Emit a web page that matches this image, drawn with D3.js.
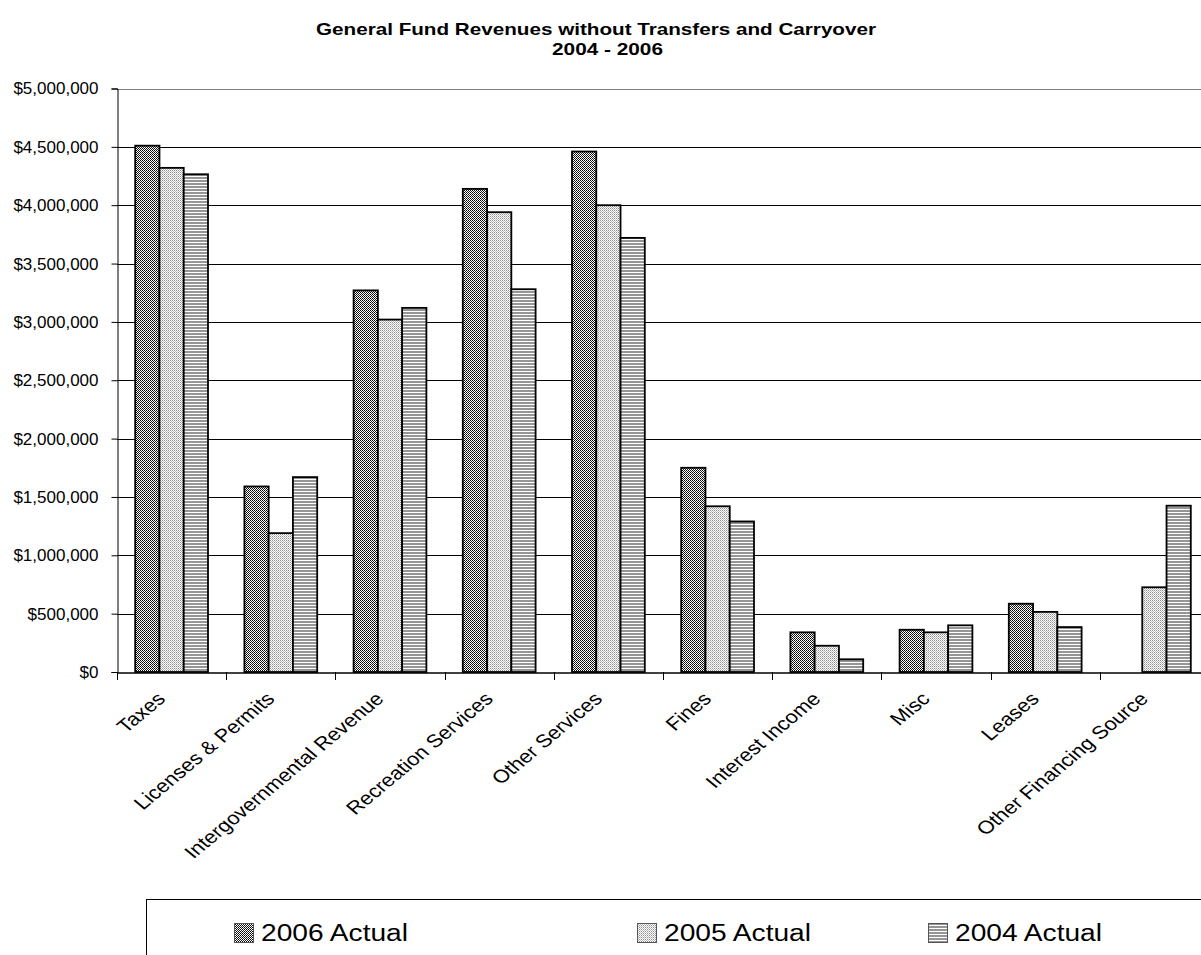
<!DOCTYPE html>
<html><head><meta charset="utf-8">
<script src="https://cdn.jsdelivr.net/npm/d3@7"></script>
<style>
html,body{margin:0;padding:0;background:#fff;}
svg{display:block;font-family:Arial,"Liberation Sans",sans-serif;}
</style></head>
<body>
<svg id="chart" width="1201" height="955"></svg>
<script>
const categories = ["Taxes","Licenses & Permits","Intergovernmental Revenue","Recreation Services","Other Services","Fines","Interest Income","Misc","Leases","Other Financing Source"];
const seriesNames = ["2006 Actual","2005 Actual","2004 Actual"];
const values2006 = [4510000,1590000,3270000,4140000,4460000,1750000,340000,362000,585000,0];
const values2005 = [4320000,1190000,3020000,3940000,4000000,1420000,225000,340000,515000,726000];
const values2004 = [4265000,1670000,3120000,3280000,3720000,1290000,109000,400000,385000,1425000];
const yTicks = [0,500000,1000000,1500000,2000000,2500000,3000000,3500000,4000000,4500000,5000000];
const titleLines = ["General Fund Revenues without Transfers and Carryover","2004 - 2006"];

const seriesValues = [values2006, values2005, values2004];
const svg = d3.select("#chart");
const defs = svg.append("defs");
const stretch = 1.2;

// patterns
const p1 = defs.append("pattern").attr("id","pat0").attr("patternUnits","userSpaceOnUse").attr("width",2).attr("height",2);
p1.append("rect").attr("width",2).attr("height",2).attr("fill","#fff");
p1.append("rect").attr("x",0).attr("y",0).attr("width",1).attr("height",1).attr("fill","#000");
p1.append("rect").attr("x",1).attr("y",1).attr("width",1).attr("height",1).attr("fill","#222");
const p2 = defs.append("pattern").attr("id","pat1").attr("patternUnits","userSpaceOnUse").attr("width",2).attr("height",2);
p2.append("rect").attr("width",2).attr("height",2).attr("fill","#fff");
p2.append("rect").attr("x",0).attr("y",0).attr("width",1).attr("height",1).attr("fill","#8e8e8e");
p2.append("rect").attr("x",1).attr("y",1).attr("width",1).attr("height",1).attr("fill","#bdbdbd");
const p3 = defs.append("pattern").attr("id","pat2").attr("patternUnits","userSpaceOnUse").attr("width",4).attr("height",3);
p3.append("rect").attr("width",4).attr("height",3).attr("fill","#fff");
p3.append("rect").attr("x",0).attr("y",0).attr("width",4).attr("height",2).attr("fill","#969696");

const x0 = 117, yBase = 672, yTop = 88.5;
const bandW = 109.2;
const x = d3.scaleBand().domain(categories).range([x0, x0 + bandW*categories.length]).padding(0);
const xs = d3.scaleBand().domain(seriesNames).range([bandW/6, bandW*5/6]).padding(0);
const y = d3.scaleLinear().domain([0,5000000]).range([yBase, yTop]);

// title
svg.append("text").attr("x",316).attr("y",35)
  .attr("font-size",17).attr("font-weight","bold")
  .attr("textLength",560).attr("lengthAdjust","spacingAndGlyphs").text(titleLines[0]);
svg.append("text").attr("x",552).attr("y",55)
  .attr("font-size",17).attr("font-weight","bold")
  .attr("textLength",111).attr("lengthAdjust","spacingAndGlyphs").text(titleLines[1]);

// gridlines
svg.append("g").selectAll("line").data(yTicks.filter(d=>d>0)).join("line")
  .attr("x1",x0).attr("x2",1201)
  .attr("y1",d=>Math.round(y(d))+0.5).attr("y2",d=>Math.round(y(d))+0.5)
  .attr("stroke",d=>d===5000000?"#808080":"#000").attr("stroke-width",1);

// y axis
const yAxis = d3.axisLeft(y).tickValues(yTicks).tickSize(6).tickPadding(13)
  .tickFormat(d=>"$"+d3.format(",")(d));
const gy = svg.append("g").attr("transform",`translate(${x0+0.5},0)`).call(yAxis);
gy.select(".domain").attr("stroke","#000");
gy.selectAll(".tick line").attr("stroke","#000");
gy.selectAll(".tick text").attr("font-size",17).attr("fill","#000")
  .attr("font-family","Arial,'Liberation Sans',sans-serif");

// bars
const groups = svg.append("g").selectAll("g").data(seriesNames).join("g");
groups.each(function(s, si){
  d3.select(this).selectAll("rect").data(categories.map((c,i)=>({c, v:seriesValues[si][i]})).filter(d=>d.v>0))
    .join("rect")
    .attr("x",d=>x(d.c)+xs(s))
    .attr("y",d=>y(d.v))
    .attr("width",xs.bandwidth())
    .attr("height",d=>yBase - y(d.v))
    .attr("fill",`url(#pat${si})`)
    .attr("stroke","#000").attr("stroke-width",1.8);
});

// x axis
const xAxis = d3.axisBottom(x).tickSize(0).tickFormat("");
const gx = svg.append("g").attr("transform",`translate(0,${yBase+0.5})`).call(xAxis);
gx.select(".domain").attr("stroke","#000").attr("stroke-width",1.5);
const boundaries = d3.range(categories.length+1).map(i=>x0 + i*bandW);
svg.append("g").selectAll("line").data(boundaries).join("line")
  .attr("x1",d=>Math.round(d)+0.5).attr("x2",d=>Math.round(d)+0.5)
  .attr("y1",yBase).attr("y2",yBase+8).attr("stroke","#000");

// x labels
svg.append("g").selectAll("text").data(categories).join("text")
  .attr("transform",d=>`translate(${x(d)+x.bandwidth()/2-5},${yBase+28}) scale(${stretch},1) rotate(-45)`)
  .attr("text-anchor","end").attr("font-size",18.3).attr("fill","#000").text(d=>d);

// legend
svg.append("rect").attr("x",146.5).attr("y",899.5).attr("width",1100).attr("height",100)
  .attr("fill","#fff").attr("stroke","#000").attr("stroke-width",1);
const legendX = [234, 637, 928];
const lg = svg.append("g").selectAll("g").data(seriesNames).join("g")
  .attr("transform",(d,i)=>`translate(${legendX[i]},923)`);
lg.append("rect").attr("x",0.5).attr("y",0.5).attr("width",19).attr("height",19)
  .attr("fill",(d,i)=>`url(#pat${i})`).attr("stroke","#555").attr("stroke-width",1);
lg.append("text").attr("x",27).attr("y",18).attr("font-size",23.5).attr("fill","#000")
  .attr("textLength",147).attr("lengthAdjust","spacingAndGlyphs").text(d=>d);
</script>
</body></html>
